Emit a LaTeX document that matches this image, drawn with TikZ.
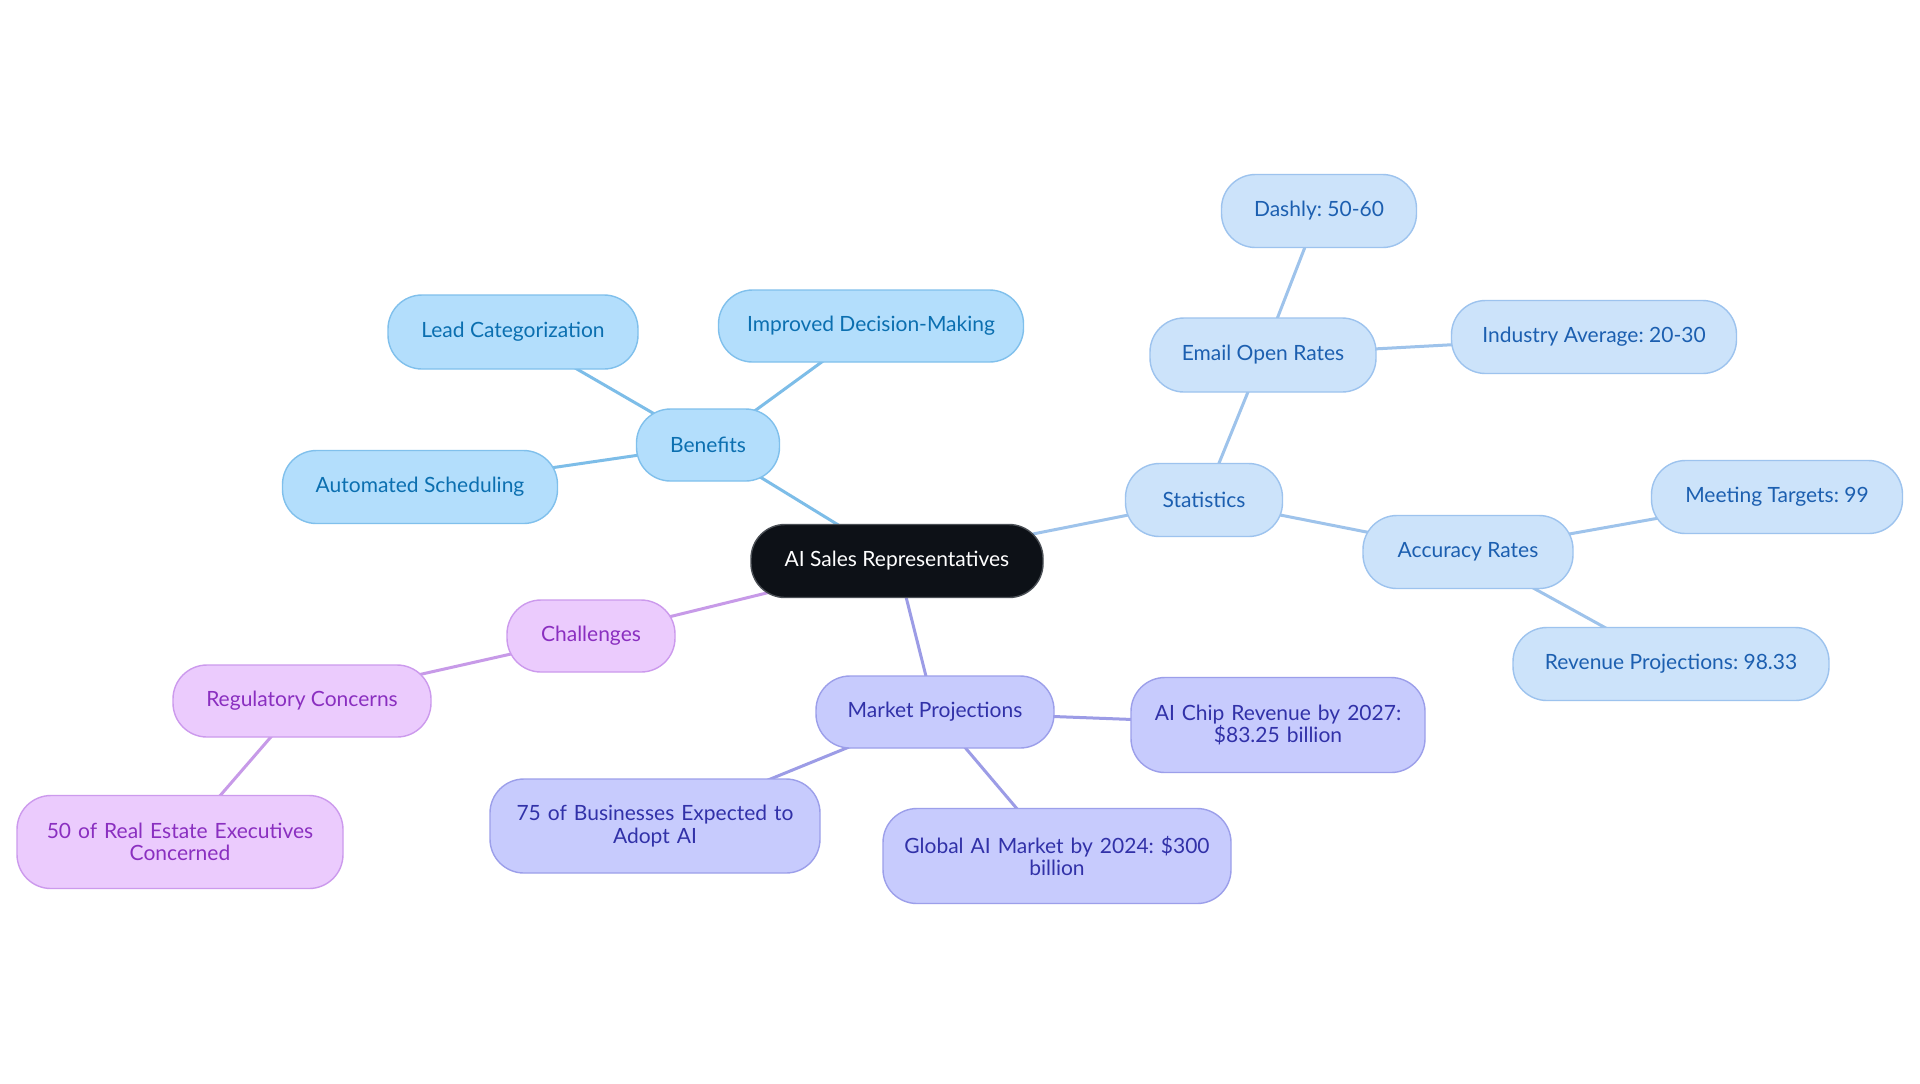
\documentclass[tikz,border=0pt]{standalone}
\usepackage{fontspec}
\setmainfont{Lato}
\usetikzlibrary{backgrounds}
\frenchspacing
\definecolor{rootfill}{HTML}{0D1117}
\definecolor{rootdraw}{HTML}{4A4F55}
\definecolor{bfill}{HTML}{B3DEFC}
\definecolor{bdraw}{HTML}{80C0EC}
\definecolor{btext}{HTML}{0B6FB0}
\definecolor{bline}{HTML}{7DBDE8}
\definecolor{sfill}{HTML}{CCE3FA}
\definecolor{sdraw}{HTML}{9DC3EE}
\definecolor{stext}{HTML}{1C5FB0}
\definecolor{sline}{HTML}{9EC3EB}
\definecolor{cfill}{HTML}{EBCBFD}
\definecolor{cdraw}{HTML}{CC9AED}
\definecolor{ctext}{HTML}{8A2FC0}
\definecolor{cline}{HTML}{C79AE8}
\definecolor{mfill}{HTML}{C7CBFD}
\definecolor{mdraw}{HTML}{9C9FEA}
\definecolor{mtext}{HTML}{3131A8}
\definecolor{mline}{HTML}{9C9CE6}
\tikzset{
  box/.style={rounded corners=17pt, line width=0.7pt, align=center, inner sep=0pt, font=\fontsize{10.5}{11.2}\selectfont\frenchspacing},
  rootbox/.style={box, fill=rootfill, draw=rootdraw, text=white},
  bbox/.style={box, fill=bfill, draw=bdraw, text=btext},
  sbox/.style={box, fill=sfill, draw=sdraw, text=stext},
  cbox/.style={box, fill=cfill, draw=cdraw, text=ctext},
  mbox/.style={box, fill=mfill, draw=mdraw, text=mtext},
  bedge/.style={draw=bline, line width=1.5pt},
  sedge/.style={draw=sline, line width=1.5pt},
  cedge/.style={draw=cline, line width=1.5pt},
  medge/.style={draw=mline, line width=1.5pt},
}
\begin{document}
\begin{tikzpicture}[x=0.5pt,y=-0.5pt]
\useasboundingbox (0,0) rectangle (1920,1083);
\node[rootbox, minimum width=146pt, minimum height=36.5pt] (root) at (897,561) {AI Sales Representatives};
% Benefits
\node[bbox, minimum width=71.5pt, minimum height=36pt] (ben) at (708,445) {Benefits};
\node[bbox, minimum width=125pt, minimum height=37pt] (lead) at (513,332) {Lead Categorization};
\node[bbox, minimum width=152.5pt, minimum height=36pt] (imp) at (871,326) {Improved Decision-Making};
\node[bbox, minimum width=137.5pt, minimum height=36.5pt] (auto) at (420,487) {Automated Scheduling};
% Statistics
\node[sbox, minimum width=78.5pt, minimum height=36.5pt] (stat) at (1204,500) {Statistics};
\node[sbox, minimum width=113pt, minimum height=37pt] (email) at (1263,355) {Email Open Rates};
\node[sbox, minimum width=97.5pt, minimum height=36.5pt] (dash) at (1319,211) {Dashly: 50-60};
\node[sbox, minimum width=142.5pt, minimum height=36.5pt] (ind) at (1594,337) {Industry Average: 20-30};
\node[sbox, minimum width=105pt, minimum height=36.5pt] (acc) at (1468,552) {Accuracy Rates};
\node[sbox, minimum width=125.5pt, minimum height=36.5pt] (meet) at (1777,497) {Meeting Targets: 99};
\node[sbox, minimum width=158pt, minimum height=36.5pt] (rev) at (1671,664) {Revenue Projections: 98.33};
% Challenges
\node[cbox, minimum width=84pt, minimum height=36pt] (chal) at (591,636) {Challenges};
\node[cbox, minimum width=129pt, minimum height=36pt] (reg) at (302,701) {Regulatory Concerns};
\node[cbox, minimum width=163pt, minimum height=46.5pt, text width=155pt] (fifty) at (180,842) {50 of Real Estate Executives\\Concerned};
% Market
\node[mbox, minimum width=119pt, minimum height=36pt] (mkt) at (935,712) {Market Projections};
\node[mbox, minimum width=147pt, minimum height=47.5pt, text width=140pt] (chip) at (1278,725) {AI Chip Revenue by 2027:\\\$83.25 billion};
\node[mbox, minimum width=165pt, minimum height=47pt, text width=158pt] (seventy) at (655,826) {75 of Businesses Expected to\\Adopt AI};
\node[mbox, minimum width=174pt, minimum height=47.5pt, text width=166pt] (glob) at (1057,856) {Global AI Market by 2024: \$300\\billion};
\begin{scope}[on background layer]
\fill[white] (0,0) rectangle (1920,1083);
\draw[bedge] (root.center) -- (ben.center);
\draw[bedge] (ben.center) -- (lead.center);
\draw[bedge] (ben.center) -- (imp.center);
\draw[bedge] (ben.center) -- (auto.center);
\draw[sedge] (root.center) -- (stat.center);
\draw[sedge] (stat.center) -- (email.center);
\draw[sedge] (email.center) -- (dash.center);
\draw[sedge] (email.center) -- (ind.center);
\draw[sedge] (stat.center) -- (acc.center);
\draw[sedge] (acc.center) -- (meet.center);
\draw[sedge] (acc.center) -- (rev.center);
\draw[cedge] (root.center) -- (chal.center);
\draw[cedge] (chal.center) -- (reg.center);
\draw[cedge] (reg.center) -- (fifty.center);
\draw[medge] (root.center) -- (mkt.center);
\draw[medge] (mkt.center) -- (chip.center);
\draw[medge] (mkt.center) -- (seventy.center);
\draw[medge] (mkt.center) -- (glob.center);
\end{scope}
\end{tikzpicture}
\end{document}
